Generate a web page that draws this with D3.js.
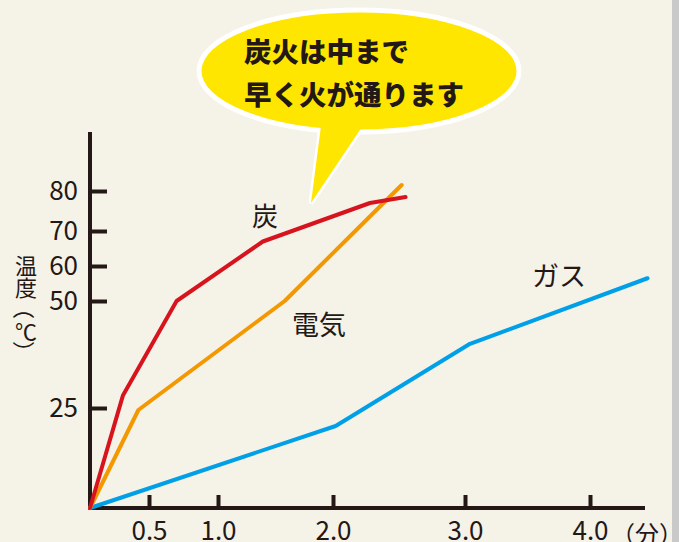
<!DOCTYPE html>
<html>
<head>
<meta charset="utf-8">
<script src="https://cdn.jsdelivr.net/npm/d3@7"></script>
<style>
  html, body { margin: 0; padding: 0; background: #f5f2e8; }
  svg { display: block; }
  text { font-family: "Noto Sans CJK JP", "Noto Sans", sans-serif; fill: #231815; }
</style>
</head>
<body>
<svg id="chart"></svg>
<script>
// data: [minutes, °C]
var charcoal = [[0, 0], [0.28, 28], [0.70, 50], [1.39, 67], [2.28, 77], [2.55, 78.5]];
var electric = [[0, 0], [0.41, 24.5], [1.58, 50], [2.52, 81.5]];
var gas = [[0, 0], [2.02, 20.5], [3.04, 40], [4.46, 56.5]];
var seriesNames = ["炭", "電気", "ガス"];
var xTicks = [0.5, 1.0, 2.0, 3.0, 4.0];
var yTicks = [25, 50, 60, 70, 80];
var yTitle = ["温", "度", "（", "℃", "）"];
var bubbleLines = ["炭火は中まで", "早く火が通ります"];

var width = 679, height = 542;

var svg = d3.select("#chart")
    .attr("width", width)
    .attr("height", height);

svg.append("rect").attr("width", width).attr("height", height).attr("fill", "#f5f2e8");
svg.append("rect").attr("x", 672).attr("width", 7).attr("height", height).attr("fill", "#c9c9c9");

// the original axes are not evenly spaced, so map piecewise
var x = d3.scaleLinear()
    .domain([0, 0.5, 1, 2, 3, 4])
    .range([90, 149, 218, 333, 465, 590]);
var y = d3.scaleLinear()
    .domain([0, 25, 50, 60, 70, 80])
    .range([508, 408, 301, 266, 231, 191]);

// axis lines
svg.append("line")
    .attr("x1", 90).attr("x2", 90).attr("y1", 132).attr("y2", 510)
    .attr("stroke", "#231815").attr("stroke-width", 4);
svg.append("line")
    .attr("x1", 88).attr("x2", 645).attr("y1", 508).attr("y2", 508)
    .attr("stroke", "#231815").attr("stroke-width", 4);

var xAxis = d3.axisBottom(x).tickValues(xTicks).tickFormat(d3.format(".1f"))
    .tickSize(-13).tickPadding(14);
svg.append("g")
    .attr("transform", "translate(0,508)")
    .call(xAxis)
    .call(g => g.select(".domain").remove())
    .call(g => g.selectAll(".tick line").attr("stroke", "#231815").attr("stroke-width", 4))
    .call(g => g.selectAll(".tick text")
        .attr("fill", "#231815").attr("font-size", 26)
        .attr("font-family", "Noto Sans CJK JP"));

svg.append("text")
    .attr("x", 611).attr("y", 543)
    .attr("font-size", 24)
    .text("（分）");

var yAxis = d3.axisLeft(y).tickValues(yTicks).tickSize(-17).tickPadding(12);
svg.append("g")
    .attr("transform", "translate(90,0)")
    .call(yAxis)
    .call(g => g.select(".domain").remove())
    .call(g => g.selectAll(".tick line").attr("stroke", "#231815").attr("stroke-width", 4))
    .call(g => g.selectAll(".tick text")
        .attr("fill", "#231815").attr("font-size", 26)
        .attr("font-family", "Noto Sans CJK JP"));

// vertical axis title, one glyph per em box; brackets turned for vertical setting
svg.append("g")
  .selectAll("text")
  .data(yTitle)
  .join("text")
    .attr("font-size", 22)
    .attr("text-anchor", "middle")
    .attr("dominant-baseline", "central")
    .attr("transform", (d, i) => {
      var cy = 264 + i * 22;
      return "translate(26," + cy + ")" + (d === "（" || d === "）" ? " rotate(90)" : "");
    })
    .text(d => d);

// lines
var line = d3.line().x(d => x(d[0])).y(d => y(d[1]));
var series = [
  { data: gas, color: "#00a0e9" },
  { data: electric, color: "#f39800" },
  { data: charcoal, color: "#d7141e" }
];
svg.selectAll("path.series")
  .data(series)
  .join("path")
    .attr("class", "series")
    .attr("fill", "none")
    .attr("stroke", d => d.color)
    .attr("stroke-width", 4)
    .attr("stroke-linejoin", "round")
    .attr("stroke-linecap", "round")
    .attr("d", d => line(d.data));

// series labels
svg.append("text").attr("x", 252).attr("y", 226).attr("font-size", 26).text(seriesNames[0]);
svg.append("text").attr("x", 292).attr("y", 335).attr("font-size", 27).text(seriesNames[1]);
svg.append("text").attr("x", 532).attr("y", 286).attr("font-size", 27).text(seriesNames[2]);

// speech bubble
var tail = "M322,118 L368,118 L311,203 Z";
var bubble = svg.append("g");
bubble.append("path").attr("d", tail)
    .attr("fill", "#ffe600").attr("stroke", "#fff").attr("stroke-width", 5)
    .attr("stroke-linejoin", "miter");
bubble.append("ellipse")
    .attr("cx", 359).attr("cy", 71).attr("rx", 160).attr("ry", 61)
    .attr("fill", "#ffe600").attr("stroke", "#fff").attr("stroke-width", 5);
bubble.append("path").attr("d", tail).attr("fill", "#ffe600");

bubble.selectAll("text.msg")
  .data(bubbleLines)
  .join("text")
    .attr("class", "msg")
    .attr("x", 244)
    .attr("y", (d, i) => 62 + i * 43)
    .attr("font-size", 27.5)
    .attr("font-weight", 900)
    .text(d => d);
</script>
</body>
</html>
